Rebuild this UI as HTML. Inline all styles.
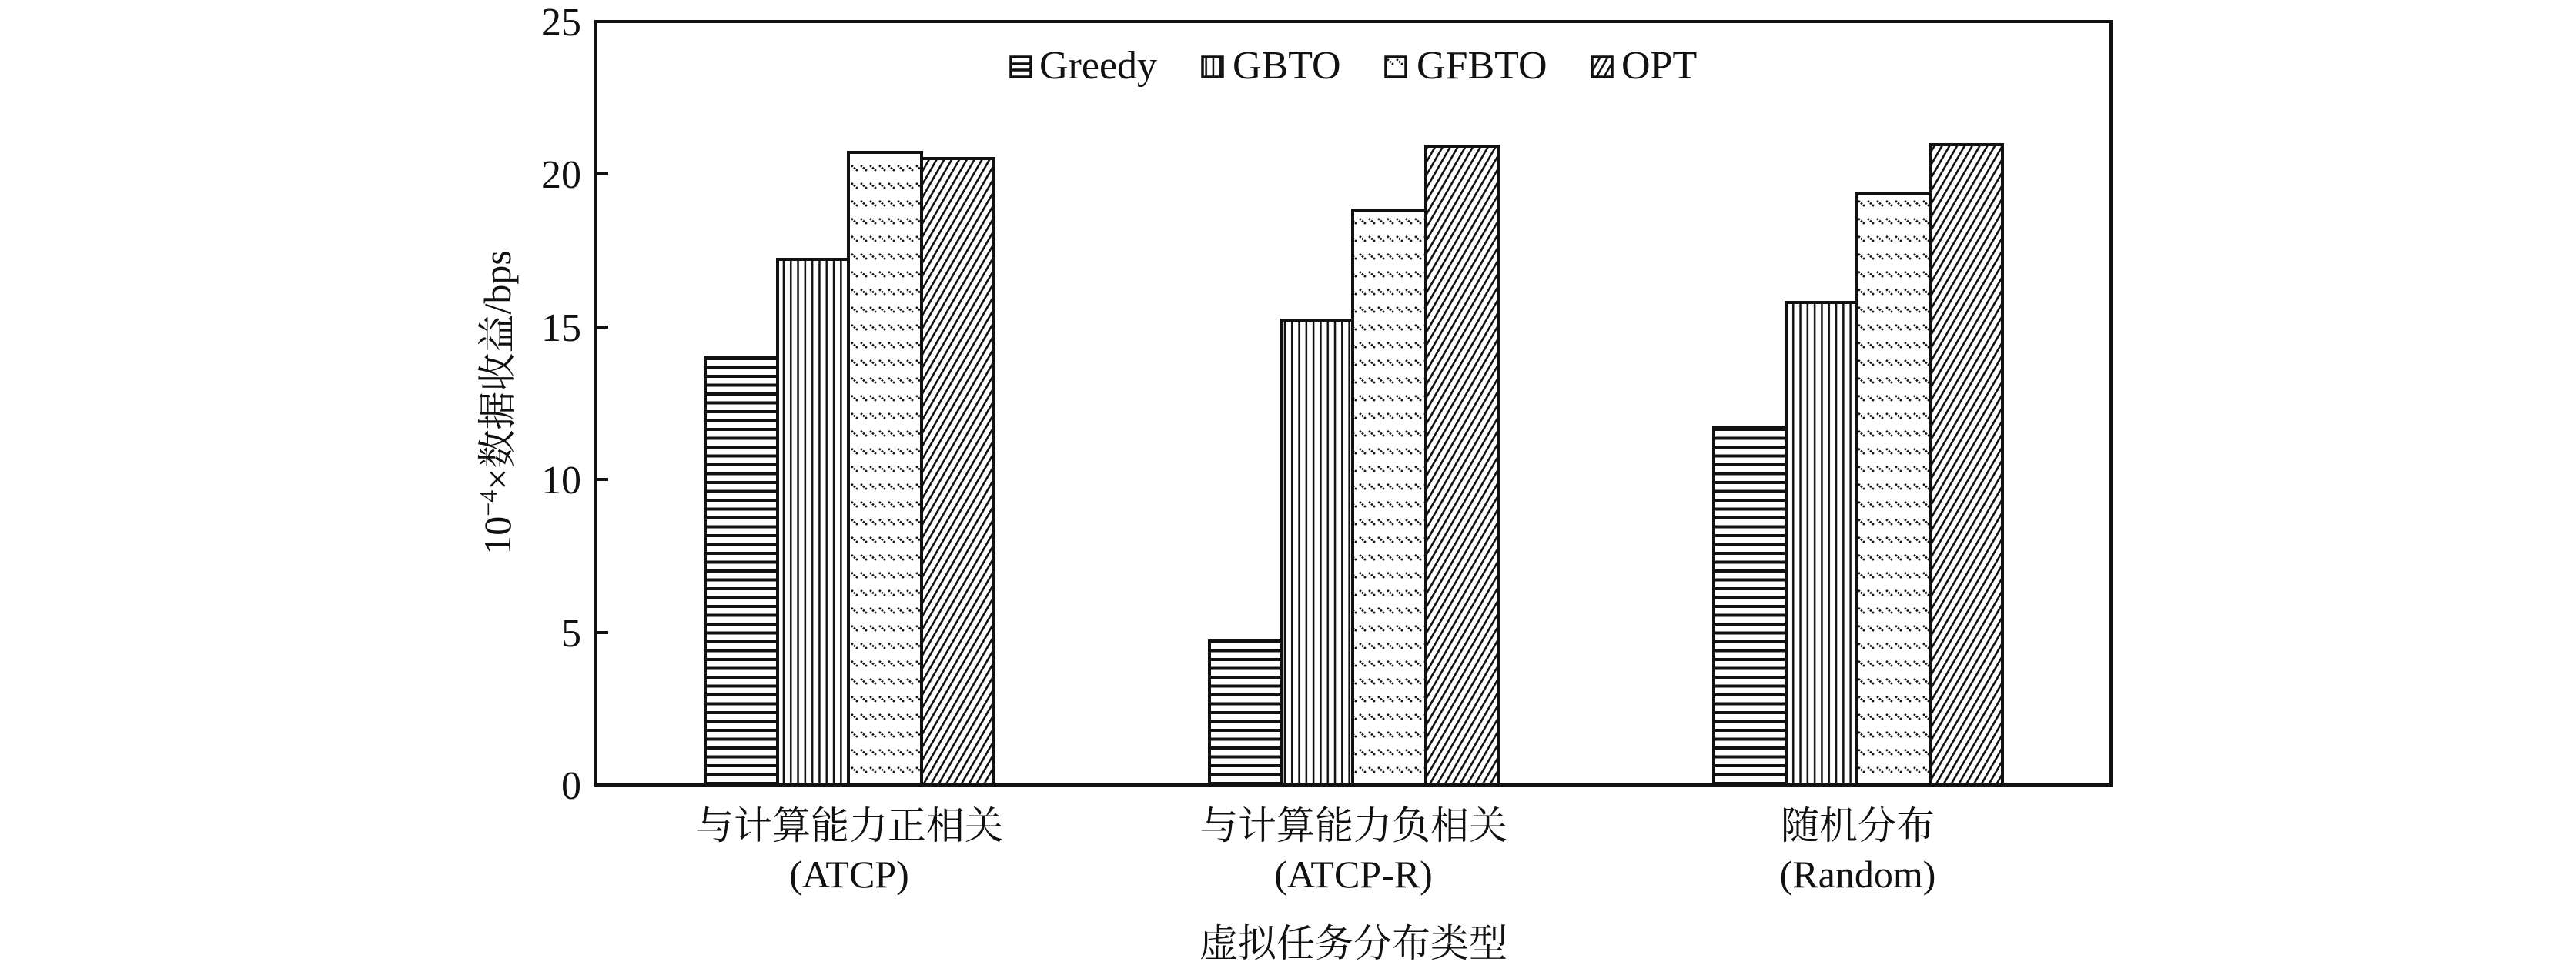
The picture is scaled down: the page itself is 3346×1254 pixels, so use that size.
<!DOCTYPE html>
<html><head><meta charset="utf-8"><style>
html,body{margin:0;padding:0;background:#fff;}
svg{display:block;}
text{font-family:"Liberation Serif","Noto Serif CJK SC",serif;fill:#111;}
</style></head><body>
<svg width="3346" height="1254" viewBox="0 0 3346 1254" xmlns="http://www.w3.org/2000/svg">
<defs>
<pattern id="pH" width="12" height="11.5" patternUnits="userSpaceOnUse"><rect width="12" height="11.5" fill="#fff"/><rect y="4" width="12" height="4" fill="#111"/></pattern>
<pattern id="pV" width="9.3" height="10" patternUnits="userSpaceOnUse"><rect width="9.3" height="10" fill="#fff"/><rect x="3" width="2.5" height="10" fill="#111"/></pattern>
<pattern id="pD" width="12" height="23" patternUnits="userSpaceOnUse"><rect width="12" height="23" fill="#fff"/><path d="M2 8 L10 15" stroke="#111" stroke-width="2.6" stroke-dasharray="2.5 1.5"/></pattern>
<pattern id="pF" width="8.5" height="8.5" patternUnits="userSpaceOnUse" patternTransform="rotate(30)"><rect width="8.5" height="8.5" fill="#fff"/><rect x="0" width="2.6" height="8.5" fill="#111"/></pattern>
</defs>
<g stroke="#111" stroke-width="4">
<rect x="916" y="464" width="94" height="556" fill="url(#pH)"/>
<rect x="1010" y="337" width="92" height="683" fill="url(#pV)"/>
<rect x="1102" y="198" width="95" height="822" fill="url(#pD)"/>
<rect x="1197" y="206" width="94" height="814" fill="url(#pF)"/>

<rect x="1571" y="833" width="94" height="187" fill="url(#pH)"/>
<rect x="1665" y="416" width="92" height="604" fill="url(#pV)"/>
<rect x="1757" y="273" width="95" height="747" fill="url(#pD)"/>
<rect x="1852" y="190" width="94" height="830" fill="url(#pF)"/>

<rect x="2226" y="555" width="94" height="465" fill="url(#pH)"/>
<rect x="2320" y="393" width="92" height="627" fill="url(#pV)"/>
<rect x="2412" y="252" width="95" height="768" fill="url(#pD)"/>
<rect x="2507" y="188" width="94" height="832" fill="url(#pF)"/>
</g>
<rect x="774" y="28" width="1968" height="992" fill="none" stroke="#111" stroke-width="4"/>
<line x1="772" y1="1020" x2="2744" y2="1020" stroke="#111" stroke-width="6"/>
<g stroke="#111" stroke-width="4">
<line x1="774" y1="822" x2="790" y2="822"/>
<line x1="774" y1="623" x2="790" y2="623"/>
<line x1="774" y1="425" x2="790" y2="425"/>
<line x1="774" y1="226" x2="790" y2="226"/>
</g>
<g font-size="52" text-anchor="end">
<text x="755" y="1038">0</text>
<text x="755" y="840">5</text>
<text x="755" y="641">10</text>
<text x="755" y="443">15</text>
<text x="755" y="244">20</text>
<text x="755" y="46">25</text>
</g>
<g stroke="#111" stroke-width="3.5">
<rect x="1313" y="74" width="26" height="26" fill="#fff"/>
<line x1="1313" y1="83" x2="1339" y2="83"/><line x1="1313" y1="91" x2="1339" y2="91"/>
<rect x="1562" y="74" width="26" height="26" fill="url(#pV)"/>
<rect x="1800" y="74" width="26" height="26" fill="url(#pD)"/>
<rect x="2068" y="74" width="26" height="26" fill="url(#pF)"/>
</g>
<g font-size="52">
<text x="1350" y="102">Greedy</text>
<text x="1601" y="102">GBTO</text>
<text x="1840" y="102">GFBTO</text>
<text x="2106" y="102">OPT</text>
</g>
<g font-size="50" text-anchor="middle">
<text x="1103" y="1090">与计算能力正相关</text>
<text x="1103" y="1153">(ATCP)</text>
<text x="1758" y="1090">与计算能力负相关</text>
<text x="1758" y="1153">(ATCP-R)</text>
<text x="2413" y="1090">随机分布</text>
<text x="2413" y="1153">(Random)</text>
<text x="1758" y="1243">虚拟任务分布类型</text>
</g>
<text font-size="50" text-anchor="middle" transform="translate(663,523) rotate(-90)">10<tspan font-size="32" dy="-18">−4</tspan><tspan dy="18">×数据收益/bps</tspan></text>
</svg>
</body></html>
